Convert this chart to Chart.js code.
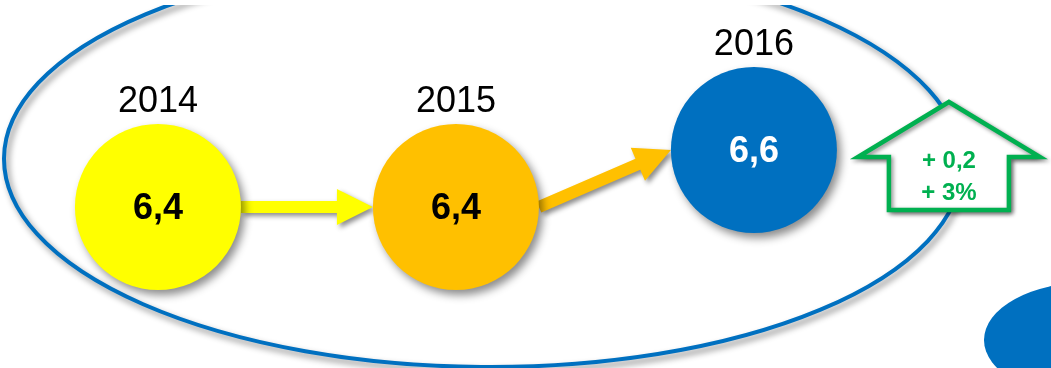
<!DOCTYPE html>
<html>
<head>
<meta charset="utf-8">
<script src="https://cdn.jsdelivr.net/npm/chart.js@4.4.0/dist/chart.umd.min.js"></script>
<style>
  body { margin: 0; background: #fff; }
  #grafico { display: block; }
</style>
</head>
<body>
<canvas id="grafico" width="1051" height="368"></canvas>
<script>
// Dados do gráfico
var anos = ['2014', '2015', '2016'];
var valores = [6.4, 6.4, 6.6];
var cores = ['#FFFF00', '#FFC000', '#0070C0'];
var coresTexto = ['#000000', '#000000', '#FFFFFF'];

var FONTE = "'Liberation Sans', Arial, sans-serif";
var RAIO = 83;

function sombra(ctx, blur, dx, dy) {
    ctx.shadowColor = 'rgba(0,0,0,0.45)';
    ctx.shadowBlur = blur;
    ctx.shadowOffsetX = dx;
    ctx.shadowOffsetY = dy;
}

// desenha uma seta de (x1,y1) até (x2,y2)
function seta(ctx, x1, y1, x2, y2, cor) {
    var ang = Math.atan2(y2 - y1, x2 - x1);
    var len = Math.hypot(x2 - x1, y2 - y1);
    var haste = 6, cabeca = 36, largCab = 18;
    ctx.save();
    ctx.translate(x1, y1);
    ctx.rotate(ang);
    sombra(ctx, 5, 3, 3);
    ctx.fillStyle = cor;
    ctx.beginPath();
    ctx.moveTo(0, -haste);
    ctx.lineTo(len - cabeca, -haste);
    ctx.lineTo(len - cabeca, -largCab);
    ctx.lineTo(len, 0);
    ctx.lineTo(len - cabeca, largCab);
    ctx.lineTo(len - cabeca, haste);
    ctx.lineTo(0, haste);
    ctx.closePath();
    ctx.fill();
    ctx.restore();
}

var pluginFundo = {
    id: 'fundo',
    beforeDatasetsDraw: function (chart) {
        var ctx = chart.ctx;
        var w = chart.width, h = chart.height;
        // elipse grande
        ctx.save();
        sombra(ctx, 6, 3, 4);
        ctx.strokeStyle = '#0070C0';
        ctx.lineWidth = 4;
        ctx.beginPath();
        ctx.ellipse(483, 162, 479, 205, 0.008, 0, Math.PI * 2);
        ctx.stroke();
        ctx.restore();
        // faixa branca no topo (recorte do slide)
        ctx.fillStyle = '#fff';
        ctx.fillRect(0, 0, w, 5);
        // pedaço azul no canto
        ctx.save();
        ctx.fillStyle = '#0070C0';
        ctx.beginPath();
        ctx.ellipse(w + 39, h - 28, 106, 58, 0, 0, Math.PI * 2);
        ctx.fill();
        ctx.restore();

        // setas entre os círculos
        var meta = chart.getDatasetMeta(0);
        for (var i = 0; i < meta.data.length - 1; i++) {
            var a = meta.data[i], b = meta.data[i + 1];
            seta(ctx, a.x + RAIO, a.y, b.x - RAIO, b.y, cores[i]);
        }
        // sombra dos círculos
        ctx.save();
        sombra(ctx, 8, 4, 5);
    },
    afterDatasetsDraw: function (chart) {
        var ctx = chart.ctx;
        ctx.restore();
        var meta = chart.getDatasetMeta(0);
        ctx.save();
        ctx.textAlign = 'center';
        meta.data.forEach(function (p, i) {
            ctx.fillStyle = '#000';
            ctx.font = '36px ' + FONTE;
            ctx.textBaseline = 'alphabetic';
            ctx.fillText(anos[i], p.x, p.y - 95);
            ctx.fillStyle = coresTexto[i];
            ctx.font = 'bold 36px ' + FONTE;
            ctx.textBaseline = 'middle';
            ctx.fillText(valores[i].toFixed(1).replace('.', ','), p.x, p.y + 2);
        });
        ctx.restore();

        // seta verde com a variação
        var ult = meta.data[meta.data.length - 1];
        var cx = ult.x + 195, cy = ult.y;
        var dif = valores[valores.length - 1] - valores[valores.length - 2];
        var pct = Math.round(dif / valores[valores.length - 2] * 100);
        ctx.save();
        ctx.beginPath();
        ctx.moveTo(cx, cy - 48);
        ctx.lineTo(cx + 91, cy + 7);
        ctx.lineTo(cx + 60, cy + 7);
        ctx.lineTo(cx + 60, cy + 60);
        ctx.lineTo(cx - 60, cy + 60);
        ctx.lineTo(cx - 60, cy + 7);
        ctx.lineTo(cx - 91, cy + 7);
        ctx.closePath();
        ctx.fillStyle = '#fff';
        sombra(ctx, 5, 3, 3);
        ctx.fill();
        ctx.shadowColor = 'transparent';
        ctx.fill();
        sombra(ctx, 4, 2, 2);
        ctx.strokeStyle = '#00B050';
        ctx.lineWidth = 4.5;
        ctx.lineJoin = 'miter';
        ctx.stroke();
        ctx.restore();
        ctx.save();
        ctx.fillStyle = '#00B050';
        ctx.font = 'bold 24px ' + FONTE;
        ctx.textAlign = 'center';
        ctx.fillText('+ ' + dif.toFixed(1).replace('.', ','), cx, cy + 18);
        ctx.fillText('+ ' + pct + '%', cx, cy + 50);
        ctx.restore();
    }
};

var ctx = document.getElementById('grafico').getContext('2d');
var meuGrafico = new Chart(ctx, {
    type: 'scatter',
    data: {
        datasets: [{
            data: valores.map(function (v, i) { return { x: +anos[i], y: v }; }),
            backgroundColor: cores,
            borderWidth: 0,
            pointRadius: RAIO,
            pointHoverRadius: RAIO
        }]
    },
    options: {
        responsive: false,
        animation: false,
        events: [],
        layout: { padding: 0, autoPadding: false },
        plugins: { legend: { display: false }, tooltip: { enabled: false } },
        scales: {
            x: { type: 'linear', display: false, min: 2013.47, max: 2016.997 },
            y: { type: 'linear', display: false, min: 5.835, max: 7.1263 }
        }
    },
    plugins: [pluginFundo]
});
</script>
</body>
</html>
